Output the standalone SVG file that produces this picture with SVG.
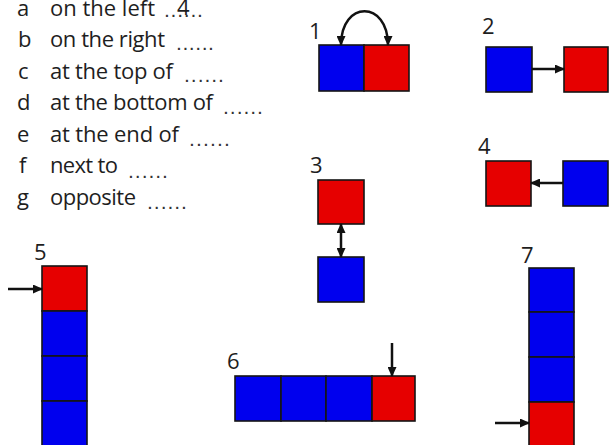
<svg xmlns="http://www.w3.org/2000/svg" width="609" height="445" viewBox="0 0 609 445">
<defs>
<style>
.t{font-family:"Open Sans","Noto Sans",sans-serif;font-size:22px;fill:#1e1e1e}
.n{font-family:"Open Sans","Noto Sans",sans-serif;font-size:22px;fill:#1e1e1e}
.d{font-family:"Liberation Sans",sans-serif;font-size:14px;font-weight:bold;fill:#333}
.b{fill:#0000ee;stroke:#151515;stroke-width:1.6}
.r{fill:#e60000;stroke:#151515;stroke-width:1.6}
.c{fill:none;stroke:#111;stroke-width:2.5}
</style>
<marker id="ah" markerUnits="userSpaceOnUse" markerWidth="10" markerHeight="9" refX="9" refY="4.5" orient="auto-start-reverse"><path d="M0,0 L10,4.5 L0,9 z" fill="#111"/></marker>
</defs>
<rect width="609" height="445" fill="#fff"/>
<g id="list">
<text class="t" x="17" y="16">a</text><text class="t" x="50" y="16" textLength="105">on the left</text>
<text class="d" x="165" y="17" textLength="37">......</text><text class="t" x="177" y="15" font-size="18">4</text>
<text class="t" x="18" y="47">b</text><text class="t" x="50" y="47" textLength="115">on the right</text>
<text class="d" x="177" y="50" textLength="36">......</text>
<text class="t" x="18" y="79">c</text><text class="t" x="50" y="79" textLength="123">at the top of</text>
<text class="d" x="185" y="82" textLength="38">......</text>
<text class="t" x="17" y="110">d</text><text class="t" x="50" y="110" textLength="163">at the bottom of</text>
<text class="d" x="224" y="114" textLength="38">......</text>
<text class="t" x="17" y="142">e</text><text class="t" x="50" y="142" textLength="129">at the end of</text>
<text class="d" x="190" y="146" textLength="39">......</text>
<text class="t" x="19" y="173">f</text><text class="t" x="50" y="173" textLength="68">next to</text>
<text class="d" x="129" y="178" textLength="38">......</text>
<text class="t" x="17" y="205">g</text><text class="t" x="50" y="205" textLength="86">opposite</text>
<text class="d" x="148" y="209" textLength="38">......</text>
</g>
<g id="fig1">
<text class="n" x="309" y="39">1</text>
<rect class="b" x="319" y="45" width="45" height="46"/>
<rect class="r" x="364" y="45" width="45" height="46"/>
</g>
<g id="fig2">
<text class="n" x="482" y="34">2</text>
<rect class="b" x="486" y="47" width="46" height="45"/>
<rect class="r" x="564" y="47" width="44" height="45"/>
</g>
<g id="fig3">
<text class="n" x="310" y="173">3</text>
<rect class="r" x="318" y="180" width="46" height="44"/>
<rect class="b" x="318" y="257" width="46" height="45"/>
</g>
<g id="fig4">
<text class="n" x="478" y="154">4</text>
<rect class="r" x="486" y="161" width="45" height="45"/>
<rect class="b" x="563" y="161" width="45" height="45"/>
</g>
<g id="fig5">
<text class="n" x="34" y="260">5</text>
<rect class="r" x="42" y="266" width="45" height="45"/>
<rect class="b" x="42" y="311" width="45" height="45"/>
<rect class="b" x="42" y="356" width="45" height="45"/>
<rect class="b" x="42" y="401" width="45" height="46"/>
</g>
<g id="fig6">
<text class="n" x="227" y="369">6</text>
<rect class="b" x="235" y="376" width="46" height="45"/>
<rect class="b" x="281" y="376" width="45" height="45"/>
<rect class="b" x="326" y="376" width="46" height="45"/>
<rect class="r" x="372" y="376" width="43" height="45"/>
</g>
<g id="fig7">
<text class="n" x="521" y="263">7</text>
<rect class="b" x="529" y="268" width="45" height="44"/>
<rect class="b" x="529" y="312" width="45" height="45"/>
<rect class="b" x="529" y="357" width="45" height="45"/>
<rect class="r" x="529" y="402" width="45" height="45"/>
</g>
<g id="connectors">
<path class="c" d="M341,45 C341,0 388,0 388,45" marker-start="url(#ah)" marker-end="url(#ah)"/>
<line class="c" x1="532" y1="69" x2="564" y2="69" marker-end="url(#ah)"/>
<line class="c" x1="341" y1="224" x2="341" y2="257" marker-start="url(#ah)" marker-end="url(#ah)"/>
<line class="c" x1="563" y1="183" x2="531" y2="183" marker-end="url(#ah)"/>
<line class="c" x1="8" y1="289" x2="42" y2="289" marker-end="url(#ah)"/>
<line class="c" x1="392" y1="343" x2="392" y2="376" marker-end="url(#ah)"/>
<line class="c" x1="495" y1="423" x2="529" y2="423" marker-end="url(#ah)"/>
</g>
</svg>
